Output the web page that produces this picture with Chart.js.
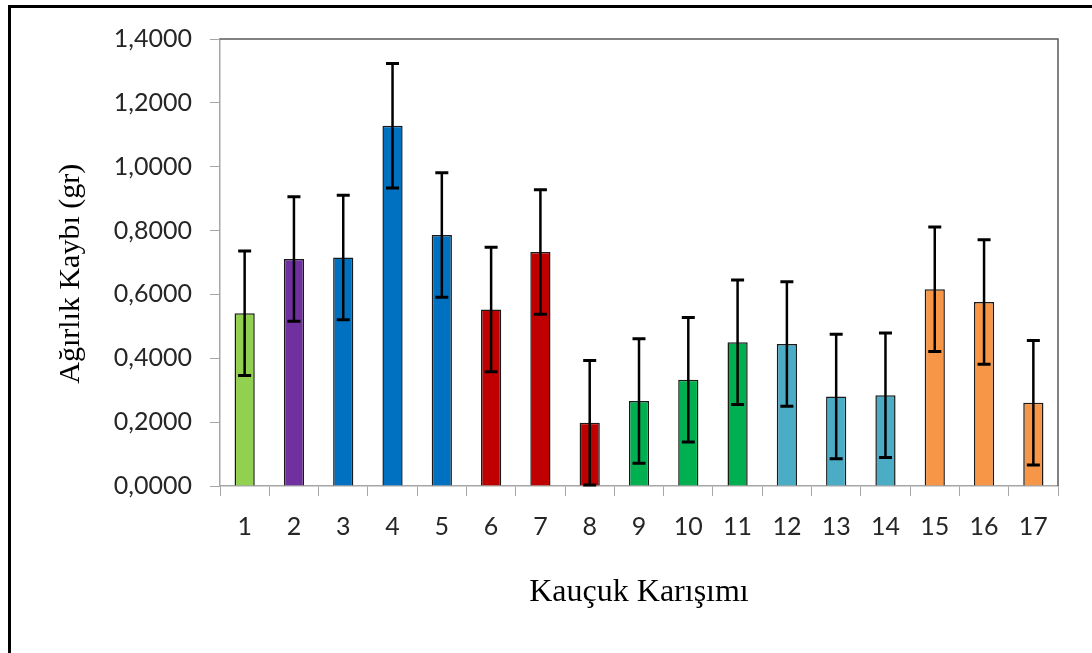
<!DOCTYPE html>
<html>
<head>
<meta charset="utf-8">
<script src="https://cdn.jsdelivr.net/npm/chart.js@4/dist/chart.umd.min.js"></script>
<style>
  html, body { margin: 0; padding: 0; background: #fff; overflow: hidden; }
  #wrap { position: relative; width: 1092px; height: 653px; }
  #frame {
    position: absolute; left: 8px; top: 5px; width: 2000px; height: 2000px;
    border-left: 3px solid #000; border-top: 3px solid #000; pointer-events: none;
  }
  canvas { position: absolute; left: 0; top: 0; }
</style>
</head>
<body>
<div id="wrap">
  <canvas id="c" width="1092" height="653"></canvas>
  <div id="frame"></div>
</div>
<script>
// Kauçuk karışımlarına göre ağırlık kaybı (ortalama ± hata)
const categories = ['1','2','3','4','5','6','7','8','9','10','11','12','13','14','15','16','17'];
const weightLoss = [0.541, 0.711, 0.716, 1.128, 0.786, 0.553, 0.733, 0.198, 0.266,
                    0.333, 0.450, 0.445, 0.280, 0.284, 0.616, 0.576, 0.261];
const errorValues = [0.195, 0.195, 0.195, 0.195, 0.195, 0.195, 0.195, 0.195, 0.195,
                     0.195, 0.195, 0.195, 0.195, 0.195, 0.195, 0.195, 0.195];
const barColors = ['#92D050', '#7030A0', '#0070C0', '#0070C0', '#0070C0',
                   '#C00000', '#C00000', '#C00000', '#00B050', '#00B050', '#00B050',
                   '#4BACC6', '#4BACC6', '#4BACC6', '#F79646', '#F79646', '#F79646'];
const yTickLabels = ['0,0000', '0,2000', '0,4000', '0,6000', '0,8000', '1,0000', '1,2000', '1,4000'];
// trailing spaces nudge the rotated title slightly downward along the axis
const yAxisTitle = 'Ağırlık Kaybı (gr)   ';
const xAxisTitle = 'Kauçuk Karışımı';

// Error bars drawn from the bar elements and the value scale
const errorBarPlugin = {
  id: 'errorBars',
  afterDatasetsDraw(chart) {
    const ctx = chart.ctx;
    const yScale = chart.scales.y;
    const meta = chart.getDatasetMeta(0);
    ctx.save();
    ctx.strokeStyle = '#000';
    meta.data.forEach((bar, i) => {
      const v = weightLoss[i], e = errorValues[i];
      const yTop = yScale.getPixelForValue(v + e);
      const yBot = yScale.getPixelForValue(Math.max(0, v - e));
      const x = bar.x;
      ctx.lineWidth = 2.5;
      ctx.beginPath();
      ctx.moveTo(x, yTop); ctx.lineTo(x, yBot);
      ctx.stroke();
      ctx.lineWidth = 3;
      ctx.beginPath();
      ctx.moveTo(x - 6.5, yTop); ctx.lineTo(x + 6.5, yTop);
      ctx.moveTo(x - 6.5, yBot); ctx.lineTo(x + 6.5, yBot);
      ctx.stroke();
    });
    ctx.restore();
  }
};

// Dark top and right edges of the plot area
const plotEdgePlugin = {
  id: 'plotEdges',
  beforeDatasetsDraw(chart) {
    const {ctx, chartArea: a} = chart;
    ctx.save();
    ctx.strokeStyle = '#595959';
    ctx.lineWidth = 1.5;
    ctx.beginPath();
    ctx.moveTo(a.left, a.top);
    ctx.lineTo(a.right, a.top);
    ctx.lineTo(a.right, a.bottom);
    ctx.stroke();
    ctx.restore();
  }
};

new Chart(document.getElementById('c'), {
  type: 'bar',
  data: {
    labels: categories,
    datasets: [{
      data: weightLoss,
      backgroundColor: barColors,
      borderColor: '#1a1a1a',
      borderWidth: 1.5,
      barPercentage: 0.41,
      categoryPercentage: 1.0
    }]
  },
  options: {
    responsive: false,
    animation: false,
    devicePixelRatio: 1,
    layout: { padding: { left: 20, top: 39, right: 34, bottom: 0 } },
    plugins: { legend: { display: false }, tooltip: { enabled: false } },
    scales: {
      x: {
        afterFit(scale) { scale.height = 167; },
        grid: { drawOnChartArea: false, drawTicks: true, tickLength: 10, color: '#A6A6A6', lineWidth: 1, offset: true },
        border: { color: '#A6A6A6', width: 1.5 },
        ticks: { color: '#262626', font: { family: 'Lato', size: 25 }, padding: 16, maxRotation: 0 },
        title: {
          display: true, text: xAxisTitle, color: '#000',
          font: { family: '"Liberation Serif", "Times New Roman", serif', size: 32 },
          padding: { top: 0, bottom: 41 }
        }
      },
      y: {
        min: 0, max: 1.4,
        afterFit(scale) { scale.width = 200; },
        ticks: {
          stepSize: 0.2, color: '#262626', font: { family: 'Lato', size: 25 }, padding: 18,
          callback: (value, index) => yTickLabels[index]
        },
        grid: { drawOnChartArea: false, drawTicks: true, tickLength: 10, color: '#A6A6A6', lineWidth: 1 },
        border: { color: '#A6A6A6', width: 1.5 },
        title: {
          display: true, text: yAxisTitle, color: '#000',
          font: { family: '"Liberation Serif", "Times New Roman", serif', size: 30 },
          padding: { top: 33, bottom: 0 }
        }
      }
    }
  },
  plugins: [plotEdgePlugin, errorBarPlugin]
});
</script>
</body>
</html>
